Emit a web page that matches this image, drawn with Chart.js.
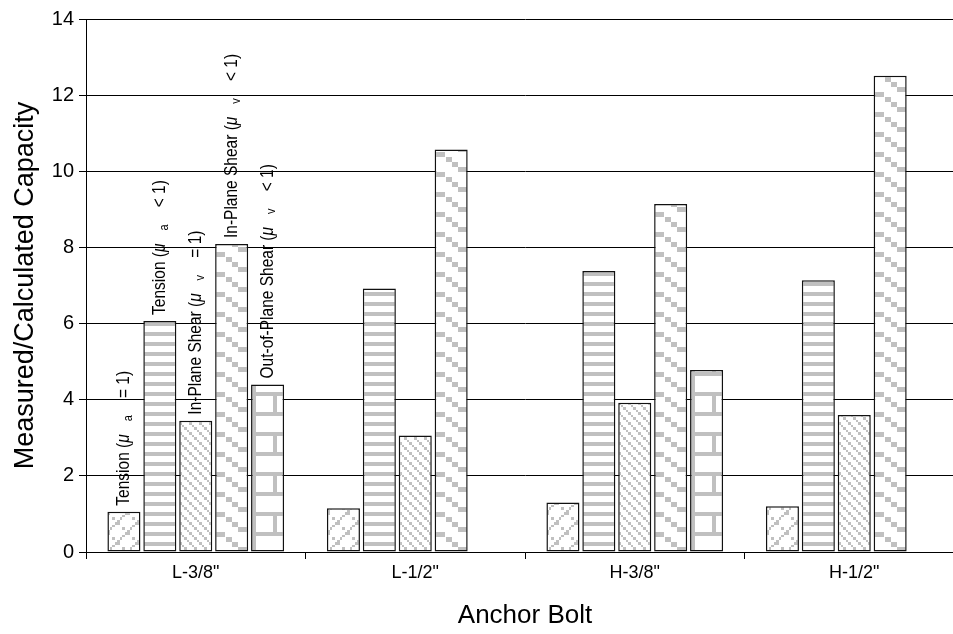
<!DOCTYPE html>
<html>
<head>
<meta charset="utf-8">
<script src="https://cdn.jsdelivr.net/npm/chart.js@4.4.1/dist/chart.umd.min.js"></script>
<style>
    html, body { margin: 0; padding: 0; background: #fff; overflow: hidden; }
    canvas { display: block; }
</style>
</head>
<body>
<canvas id="chart-bolt" width="980" height="634"></canvas>
<script>
//------------------------------------------------------------DATA------------------------------------------------------------
var categories = ['L-3/8"', 'L-1/2"', 'H-3/8"', 'H-1/2"'];
var tensionA1 = [1.06, 1.15, 1.30, 1.20];
var tensionALess1 = [6.07, 6.92, 7.38, 7.14];
var inPlaneV1 = [3.45, 3.06, 3.92, 3.60];
var inPlaneVLess1 = [8.09, 10.57, 9.14, 12.51];
var outPlaneVLess1 = [4.40, null, 4.78, null];
var yMin = 0, yMax = 14, yStep = 2;

// series names, split so the mu / subscript can be drawn apart
var seriesPre = ['Tension (', 'Tension (', 'In-Plane Shear (', 'In-Plane Shear (', 'Out-of-Plane Shear ('];
var seriesSub = ['a', 'a', 'v', 'v', 'v'];
var seriesPost = ['= 1)', '< 1)', '= 1)', '< 1)', '< 1)'];

var FONT = '"Liberation Sans", Arial, sans-serif';
var GRAY = '#c0c0c0';

//------------------------------------------------------------PATTERNS--------------------------------------------------------
function makeTile(w, h, rects) {
    var c = document.createElement('canvas');
    c.width = w;
    c.height = h;
    var g = c.getContext('2d');
    g.fillStyle = '#fff';
    g.fillRect(0, 0, w, h);
    g.fillStyle = GRAY;
    rects.forEach(function (r) {
        for (var dx = -w; dx <= w; dx += w) {
            for (var dy = -h; dy <= h; dy += h) {
                g.fillRect(r[0] + dx, r[1] + dy, r[2], r[3]);
            }
        }
    });
    return c;
}

// cell of an 8x8 style bitmap blown up 2.5x, rounded to whole pixels
function cell(i, j) {
    var x0 = Math.round(i * 2.5), x1 = Math.round((i + 1) * 2.5);
    var y0 = Math.round(j * 2.5), y1 = Math.round((j + 1) * 2.5);
    return [x0, y0, x1 - x0, y1 - y0];
}

var crossCells = [];
for (var k = 0; k < 8; k++) {
    crossCells.push(cell(7 - k, k));
    if (k % 2 === 0) crossCells.push(cell(k, k));
}
var diagCells = [];
for (var k = 0; k < 4; k++) diagCells.push(cell(k, k));

var tiles = [
    makeTile(20, 20, crossCells),                                             // wide upward diagonal
    makeTile(10, 10, [[0, 0, 10, 4]]),                                         // narrow horizontal
    makeTile(10, 10, diagCells),                                               // downward diagonal
    makeTile(33, 20, [[0, 0, 10, 5], [11, 5, 6, 5], [17, 10, 6, 5], [23, 15, 10, 5]]), // dashed stair
    makeTile(33, 40, [[0, 0, 5, 40], [0, 0, 33, 4], [0, 20, 33, 4], [22, 4, 4, 16]])   // brick
];

// fill every bar with its pattern, anchored on the bar's own corner
var barPatterns = {
    id: 'barPatterns',
    afterDatasetsUpdate: function (chart) {
        var ctx = chart.ctx;
        chart.data.datasets.forEach(function (ds, i) {
            chart.getDatasetMeta(i).data.forEach(function (el) {
                var pat = ctx.createPattern(tiles[i], 'repeat');
                pat.setTransform(new DOMMatrix().translate(Math.round(el.x - el.width / 2), Math.round(el.base)));
                el.options = Object.assign({}, el.options, { backgroundColor: pat });
            });
        });
    }
};

// rotated series names over the first group
function drawRun(ctx, text, font, x, y) {
    ctx.font = font;
    ctx.fillText(text, x, y);
    return x + ctx.measureText(text).width;
}

var barLabels = {
    id: 'barLabels',
    afterDatasetsDraw: function (chart) {
        var ctx = chart.ctx;
        chart.data.datasets.forEach(function (ds, i) {
            var el = chart.getDatasetMeta(i).data[0];
            ctx.save();
            ctx.translate(el.x + 5, el.y - 6);
            ctx.rotate(-Math.PI / 2);
            ctx.scale(1, 1.15);
            ctx.fillStyle = '#000';
            ctx.textBaseline = 'alphabetic';
            ctx.textAlign = 'left';
            var x = 0;
            x = drawRun(ctx, seriesPre[i], '15.5px ' + FONT, x, 0);
            x = drawRun(ctx, 'μ', 'italic 15.5px ' + FONT, x, 0);
            x = drawRun(ctx, '   ', '15.5px ' + FONT, x, 0);
            x = drawRun(ctx, seriesSub[i], '11px ' + FONT, x, 2.5);
            x = drawRun(ctx, '    ' + seriesPost[i], '15.5px ' + FONT, x, 0);
            ctx.restore();
        });
    }
};

//------------------------------------------------------------CHART-----------------------------------------------------------
var seriesData = [tensionA1, tensionALess1, inPlaneV1, inPlaneVLess1, outPlaneVLess1];
var datasets = seriesData.map(function (arr, i) {
    return {
        label: seriesPre[i] + 'μ' + seriesSub[i] + ' ' + seriesPost[i],
        data: arr,
        backgroundColor: '#fff',
        borderColor: '#111',
        borderWidth: 1.5,
        borderSkipped: false,
        categoryPercentage: 0.818,
        barPercentage: 0.92
    };
});

var ctxBolt = document.getElementById('chart-bolt').getContext('2d');
var chart_bolt = new Chart(ctxBolt, {
    type: 'bar',
    data: {
        labels: categories,
        datasets: datasets
    },
    options: {
        responsive: false,
        animation: false,
        layout: {
            padding: { top: 19, right: 16, bottom: 0, left: 0 }
        },
        plugins: {
            legend: { display: false },
            tooltip: { enabled: false }
        },
        scales: {
            x: {
                grid: {
                    offset: true,
                    drawOnChartArea: false,
                    drawTicks: true,
                    tickLength: 7,
                    color: '#000'
                },
                border: { color: '#000', width: 1 },
                ticks: {
                    color: '#000',
                    padding: 3,
                    font: { family: FONT, size: 18 }
                },
                title: {
                    display: true,
                    text: 'Anchor Bolt',
                    color: '#000',
                    padding: { top: 0, bottom: 3 },
                    font: { family: FONT, size: 26 }
                },
                afterFit: function (scale) { scale.height = 82; }
            },
            y: {
                min: yMin,
                max: yMax,
                ticks: {
                    stepSize: yStep,
                    color: '#000',
                    padding: 5,
                    font: { family: FONT, size: 20 }
                },
                grid: {
                    color: '#000',
                    tickLength: 7
                },
                border: { color: '#000', width: 1 },
                title: {
                    display: true,
                    text: 'Measured/Calculated Capacity',
                    color: '#000',
                    padding: { top: 9, bottom: 0 },
                    font: { family: FONT, size: 27 }
                },
                afterFit: function (scale) { scale.width = 86; }
            }
        }
    },
    plugins: [barPatterns, barLabels]
});
</script>
</body>
</html>
